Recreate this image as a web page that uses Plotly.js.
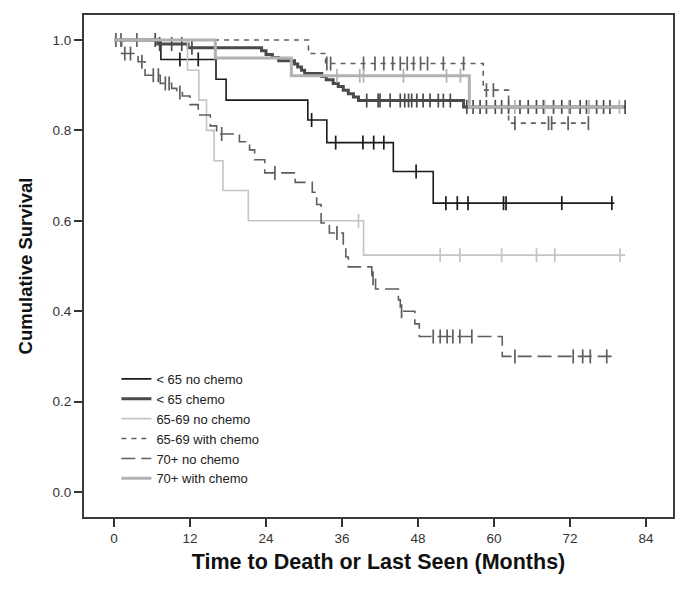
<!DOCTYPE html>
<html>
<head>
<meta charset="utf-8">
<script src="https://cdn.plot.ly/plotly-3.0.1.min.js"></script>
<style>
  html, body { margin: 0; padding: 0; background: #fff; }
  #graph { width: 686px; height: 590px; }
</style>
</head>
<body>
<div id="graph"></div>
<script>
// ---------- DATA (Kaplan-Meier steps) ----------
// each group: step times, survival after the step, last follow-up, censored times

// < 65 no chemo
const tLt65No = [0, 7.4, 16.1, 17.7, 30.6, 33.6, 44.1, 50.4];
const sLt65No = [1.0, 0.957, 0.913, 0.867, 0.823, 0.773, 0.709, 0.639];
const endLt65No = 79;
const cLt65No = [10.4, 13.3, 31.2, 35.0, 39.3, 41.0, 42.6, 47.7, 52.4, 54.2, 55.9, 61.5, 61.9, 70.7, 78.6];

// < 65 chemo
const tLt65Chemo = [0, 6.9, 11.7, 23.3, 24.0, 25.0, 26.0, 28.5, 29.0, 29.6, 30.1, 32.8, 33.5, 34.6, 35.4, 36.2, 37.0, 37.8, 38.6, 55.2];
const sLt65Chemo = [1.0, 0.991, 0.983, 0.976, 0.968, 0.961, 0.954, 0.947, 0.940, 0.933, 0.926, 0.919, 0.912, 0.904, 0.897, 0.889, 0.881, 0.874, 0.866, 0.852];
const endLt65Chemo = 80.7;
const cLt65Chemo = [6.5, 7.2, 9.1, 10.7, 12.3, 39.9, 41.7, 42.0, 43.6, 45.2, 45.9, 46.5, 47.0, 47.8, 48.8, 49.9, 51.2, 52.0, 53.1,
                    55.7, 56.7, 57.8, 58.8, 60.2, 61.2, 62.3, 64.1, 65.4, 66.7, 67.8, 69.4, 70.7, 72.0, 73.6, 74.6, 76.2, 77.3, 78.3, 80.7];

// 65-69 no chemo
const t6569No = [0, 11.6, 13.4, 14.6, 15.8, 17.2, 21.2, 39.4];
const s6569No = [1.0, 0.933, 0.867, 0.800, 0.733, 0.667, 0.600, 0.524];
const end6569No = 80.7;
const c6569No = [38.6, 51.5, 54.6, 61.2, 66.7, 69.6, 79.9];

// 65-69 with chemo
const t6569Chemo = [0, 30.7, 33.4, 58.3, 62.3];
const s6569Chemo = [1.0, 0.970, 0.948, 0.889, 0.816];
const end6569Chemo = 75;
const c6569Chemo = [0.3, 1.1, 3.6, 33.6, 34.2, 39.4, 41.2, 42.6, 44.0, 45.2, 46.3, 47.3, 48.4, 49.5, 52.0, 55.2,
                    58.8, 59.9, 63.3, 68.6, 69.1, 71.7, 74.9];

// 70+ no chemo
const t70No = [0, 1.2, 3.8, 4.9, 7.3, 9.1, 9.9, 10.8, 12.0, 13.3, 15.2, 16.2, 19.8, 21.4, 22.2, 23.8, 28.6, 31.3,
               32.0, 32.7, 34.0, 36.2, 36.6, 37.0, 40.7, 41.3, 44.9, 45.2, 47.5, 48.2, 61.3];
const s70No = [1.0, 0.970, 0.952, 0.922, 0.904, 0.893, 0.884, 0.876, 0.857, 0.834, 0.810, 0.792, 0.775, 0.757, 0.735,
               0.706, 0.685, 0.663, 0.636, 0.595, 0.573, 0.546, 0.520, 0.498, 0.473, 0.449, 0.425, 0.400, 0.372, 0.344, 0.300];
const end70No = 78.6;
const c70No = [1.7, 2.6, 4.4, 6.2, 7.0, 8.1, 8.7, 10.4, 17.0, 25.4, 35.2, 40.9, 45.4, 50.4, 51.5, 52.6, 53.5, 54.6, 56.5,
               63.3, 72.5, 74.0, 75.2, 77.8];

// 70+ with chemo
const t70Chemo = [0, 16.0, 28.0, 56.1];
const s70Chemo = [1.0, 0.960, 0.921, 0.852];
const end70Chemo = 80.5;
const c70Chemo = [35.2, 38.8, 39.4, 45.7, 52.5, 54.7, 63.3, 68.0, 71.8, 75.0, 79.8];

const groups = [
  { name: "< 65 no chemo",    t: tLt65No,    s: sLt65No,    end: endLt65No,    c: cLt65No,    color: "#1a1a1a", width: 1.6, dash: "solid" },
  { name: "< 65 chemo",       t: tLt65Chemo, s: sLt65Chemo, end: endLt65Chemo, c: cLt65Chemo, color: "#4a4a4a", width: 3,   dash: "solid" },
  { name: "65-69 no chemo",   t: t6569No,    s: s6569No,    end: end6569No,    c: c6569No,    color: "#c4c4c4", width: 1.6, dash: "solid" },
  { name: "65-69 with chemo", t: t6569Chemo, s: s6569Chemo, end: end6569Chemo, c: c6569Chemo, color: "#5e5e5e", width: 1.6, dash: "5px,5px" },
  { name: "70+ no chemo",     t: t70No,      s: s70No,      end: end70No,      c: c70No,      color: "#5e5e5e", width: 1.6, dash: "14px,6px" },
  { name: "70+ with chemo",   t: t70Chemo,   s: s70Chemo,   end: end70Chemo,   c: c70Chemo,   color: "#b2b2b2", width: 3,   dash: "solid" }
];

// survival value of a step curve at time x
function survAt(x, times, surv) {
  let v = surv[0];
  for (let i = 0; i < times.length; i++) {
    if (times[i] <= x) v = surv[i];
  }
  return v;
}

let traces = [];
groups.forEach(g => {
  traces.push({
    x: g.t.concat([g.end]),
    y: g.s.concat([g.s[g.s.length - 1]]),
    type: "scatter",
    mode: "lines",
    name: g.name,
    legendgroup: g.name,
    line: { shape: "hv", color: g.color, width: g.width, dash: g.dash },
    hoverinfo: "skip"
  });
  traces.push({
    x: g.c,
    y: g.c.map(x => survAt(x, g.t, g.s)),
    type: "scatter",
    mode: "markers",
    showlegend: false,
    legendgroup: g.name,
    marker: { symbol: "line-ns-open", size: 10, color: g.color, line: { color: g.color, width: 1.7 } },
    hoverinfo: "skip"
  });
});

const font = { family: "Liberation Sans, Arial, sans-serif", color: "#222" };

Plotly.newPlot("graph", traces, {
  width: 686,
  height: 590,
  margin: { l: 84, r: 13, t: 15, b: 73 },
  paper_bgcolor: "#fff",
  plot_bgcolor: "#fff",
  font: font,
  showlegend: true,
  legend: {
    x: 0.055, y: 0.305, xanchor: "left", yanchor: "top",
    bgcolor: "rgba(0,0,0,0)",
    font: { family: font.family, size: 13, color: "#222" },
    itemwidth: 30,
    tracegroupgap: 0
  },
  xaxis: {
    range: [-4.74, 88.26],
    tickvals: [0, 12, 24, 36, 48, 60, 72, 84],
    ticks: "outside", ticklen: 8, tickwidth: 2, tickcolor: "#333",
    showline: true, mirror: true, linecolor: "#3a3a3a", linewidth: 2,
    showgrid: false, zeroline: false,
    tickfont: { family: font.family, size: 13.5, color: "#333" },
    title: { text: "Time to Death or Last Seen (Months)", standoff: 9,
             font: { family: font.family, size: 21.5, weight: "bold", color: "#111" } }
  },
  yaxis: {
    range: [-0.0553, 1.0553],
    tickvals: [0, 0.2, 0.4, 0.6, 0.8, 1.0],
    tickformat: ".1f",
    ticks: "outside", ticklen: 8, tickwidth: 2, tickcolor: "#333",
    showline: true, mirror: true, linecolor: "#3a3a3a", linewidth: 2,
    showgrid: false, zeroline: false,
    tickfont: { family: font.family, size: 13.5, color: "#333" },
    title: { text: "Cumulative Survival", standoff: 15,
             font: { family: font.family, size: 18.5, weight: "bold", color: "#111" } }
  }
}, { displayModeBar: false, staticPlot: true });
</script>
</body>
</html>
